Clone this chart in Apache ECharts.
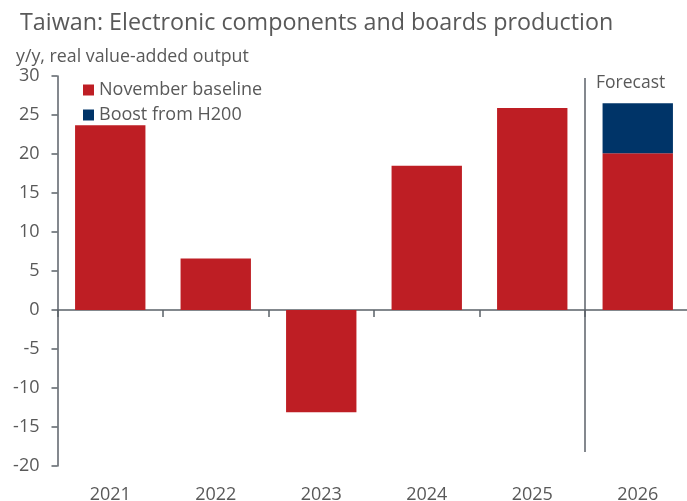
<!DOCTYPE html>
<html>
<head>
<meta charset="utf-8">
<script src="https://cdn.jsdelivr.net/npm/echarts@6/dist/echarts.min.js"></script>
<style>
html,body{margin:0;padding:0;background:#fff;}
#chart{width:687px;height:501px;}
</style>
</head>
<body>
<div id="chart"></div>
<script>
const titleText = 'Taiwan: Electronic components and boards production';
const subtitleText = 'y/y, real value-added output';
const categories = ['2021', '2022', '2023', '2024', '2025', '2026'];
const baseline = [23.7, 6.6, -13.1, 18.5, 25.9, 20.1];
const boost = [null, null, null, null, null, 6.4];
const seriesNames = ['November baseline', 'Boost from H200'];
const forecastLabel = 'Forecast';
const forecastRange = [30, -18.2]; // y-values spanned by the forecast divider
const yMin = -20, yMax = 30, yStep = 5;

const FONT = '"Open Sans", "Noto Sans", sans-serif';
const TXT = '#595959';
const AX = '#5b6168';
const RED = '#be1e24';
const BLUE = '#003468';

const chart = echarts.init(document.getElementById('chart'), null, {renderer: 'canvas'});

const option = {
  backgroundColor: '#fff',
  animation: false,
  textStyle: {fontFamily: FONT},
  title: [
    {text: titleText, left: 20, top: 12, padding: 0,
     textStyle: {fontFamily: FONT, fontSize: 23.3, fontWeight: 'normal', color: TXT}},
    {text: subtitleText, left: 16, top: 48, padding: 0,
     textStyle: {fontFamily: FONT, fontSize: 17.8, fontWeight: 'normal', color: TXT}}
  ],
  legend: {
    orient: 'vertical', left: 83, top: 80, padding: 0,
    itemWidth: 11, itemHeight: 11, itemGap: 5,
    icon: 'rect',
    textStyle: {fontFamily: FONT, fontSize: 18, color: TXT, lineHeight: 20},
    data: seriesNames
  },
  grid: {left: 57.5, top: 76, width: 633, height: 390, containLabel: false, outerBoundsMode: 'none'},
  xAxis: [
    {type: 'category', data: categories, position: 'bottom',
     axisLine: {show: true, onZero: true, lineStyle: {color: AX, width: 1.5}},
     axisTick: {show: true, length: 7, lineStyle: {color: AX, width: 1.5}},
     axisLabel: {show: false}, splitLine: {show: false}},
    {type: 'category', data: categories, position: 'bottom',
     axisLine: {show: false, onZero: false}, axisTick: {show: false},
     axisLabel: {show: true, margin: 20, fontFamily: FONT, fontSize: 18, color: TXT},
     splitLine: {show: false}}
  ],
  yAxis: {
    type: 'value', min: yMin, max: yMax, interval: yStep,
    axisLine: {show: true, lineStyle: {color: AX, width: 1.5}},
    axisTick: {show: true, length: 6, lineStyle: {color: AX, width: 1.5}},
    axisLabel: {margin: 18, fontFamily: FONT, fontSize: 18, color: TXT},
    splitLine: {show: false}
  },
  series: [
    {name: seriesNames[0], type: 'bar', stack: 'total', xAxisIndex: 0,
     data: baseline, itemStyle: {color: RED}, barCategoryGap: '33.3%'},
    {name: seriesNames[1], type: 'bar', stack: 'total', xAxisIndex: 0,
     data: boost, itemStyle: {color: BLUE}, barCategoryGap: '33.3%'}
  ]
};
chart.setOption(option);

// Forecast divider: between the last two categories, placed via the chart's scales
const pA = chart.convertToPixel({xAxisIndex: 0, yAxisIndex: 0}, [categories[4], forecastRange[0]]);
const pB = chart.convertToPixel({xAxisIndex: 0, yAxisIndex: 0}, [categories[5], forecastRange[1]]);
const xDiv = (pA[0] + pB[0]) / 2;
chart.setOption({
  graphic: [
    {type: 'line', shape: {x1: xDiv, y1: pA[1] + 2, x2: xDiv, y2: pB[1]},
     style: {stroke: AX, lineWidth: 1.5}, z: 10},
    {type: 'text', x: xDiv + 11, y: pA[1] - 2,
     style: {text: forecastLabel, fill: TXT, font: '17.5px ' + FONT, textAlign: 'left', textVerticalAlign: 'top'}, z: 10}
  ]
});
</script>
</body>
</html>
